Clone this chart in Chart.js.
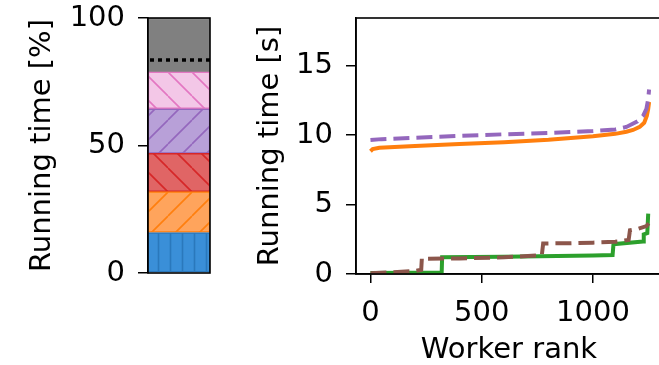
<!DOCTYPE html>
<html>
<head>
<meta charset="utf-8">
<script src="https://cdn.jsdelivr.net/npm/chart.js@4.4.1/dist/chart.umd.min.js"></script>
<style>
  html, body { margin: 0; padding: 0; background: #fff; overflow: hidden; width: 659px; height: 365px; }
  canvas { position: absolute; top: 0; }
  #share { left: 0; }
  #ranks { left: 212px; }
</style>
</head>
<body>
<canvas id="share" width="212" height="365"></canvas>
<canvas id="ranks" width="454" height="365"></canvas>
<script>
// left panel: share of the running time [%], bottom to top
const shareParts = ["p1", "p2", "p3", "p4", "p5", "rest"];
const shareValues = [15.9, 16.0, 15.0, 17.5, 14.5, 21.1];
const shareMarker = 83.5;
const shareTicks = [0, 50, 100];

// right panel: running time [s] per worker rank (sorted)
const orangeRank = [0, 10, 40, 200, 400, 600, 800, 1000, 1100, 1150, 1180, 1210, 1230, 1242, 1248, 1252];
const orangeTime = [8.85, 9.0, 9.1, 9.22, 9.37, 9.5, 9.67, 9.92, 10.1, 10.25, 10.38, 10.6, 10.9, 11.4, 11.9, 12.4];

const purpleRank = [0, 50, 200, 400, 600, 800, 1000, 1100, 1150, 1200, 1225, 1240, 1248, 1252];
const purpleTime = [9.65, 9.72, 9.82, 9.95, 10.07, 10.17, 10.3, 10.42, 10.6, 11.0, 11.4, 11.9, 12.6, 13.3];

const greenRank = [0, 320, 322, 600, 1000, 1088, 1092, 1225, 1228, 1244, 1248];
const greenTime = [0.08, 0.1, 1.2, 1.25, 1.33, 1.37, 2.15, 2.35, 2.85, 2.95, 4.35];

const brownRank = [0, 100, 200, 228, 231, 240, 400, 600, 770, 776, 900, 1000, 1100, 1160, 1166, 1200, 1240, 1250];
const brownTime = [0.05, 0.12, 0.22, 0.3, 1.15, 1.1, 1.12, 1.2, 1.35, 2.2, 2.22, 2.26, 2.32, 2.45, 3.15, 3.25, 3.45, 3.65];

const timeTicks = [0, 5, 10, 15];
const rankTicks = [0, 500, 1000];

const FONT = { family: "DejaVu Sans", size: 29 };

function hatch(fill, stroke, kind) {
  const P = kind === "|" ? 12 : 24;
  const c = document.createElement("canvas");
  c.width = P; c.height = P;
  const g = c.getContext("2d");
  g.fillStyle = fill;
  g.fillRect(0, 0, P, P);
  g.strokeStyle = stroke;
  g.lineWidth = 1.6;
  g.beginPath();
  if (kind === "|") {
    g.moveTo(2.5, 0); g.lineTo(2.5, P);
  } else if (kind === "/") {
    for (const o of [-P, 0, P]) { g.moveTo(o, P); g.lineTo(o + P, 0); }
  } else if (kind === "\\") {
    for (const o of [-P, 0, P]) { g.moveTo(o, 0); g.lineTo(o + P, P); }
  }
  g.stroke();
  return g.createPattern(c, "repeat");
}

const fills = ["#3a8fd8", "#ffa45c", "#e06565", "#b8a0d8", "#f3c7e7", "#808080"];
const lines = ["#2a78bc", "#ff7f0e", "#d62728", "#9467bd", "#e377c2", "#808080"];
const kinds = ["|", "/", "\\", "/", "\\", ""];

const frame = {
  id: "frame",
  afterDatasetsDraw(chart) {
    const { ctx, chartArea: a } = chart;
    ctx.save();
    if (chart.canvas.id === "share") {
      const y = chart.scales.y.getPixelForValue(shareMarker);
      ctx.setLineDash([4, 4]);
      ctx.lineWidth = 3.5;
      ctx.strokeStyle = "#000";
      ctx.beginPath();
      ctx.moveTo(a.left + 2, y);
      ctx.lineTo(a.right, y);
      ctx.stroke();
      ctx.setLineDash([]);
    }
    ctx.lineWidth = 1.6;
    ctx.strokeStyle = "#000";
    ctx.strokeRect(a.left, a.top, a.right - a.left, a.bottom - a.top);
    ctx.restore();
  }
};

// no extra room for the end tick labels: the layout padding decides
function noPad(s) {
  s.paddingTop = 0; s.paddingBottom = 0; s.paddingLeft = 0; s.paddingRight = 0;
}

function yAxis(ticks, width, titleText, titlePad, min, max) {
  return {
    min: min, max: max,
    afterBuildTicks: s => { s.ticks = ticks.map(v => ({ value: v })); },
    afterFit: s => { s.width = width; noPad(s); },
    grid: { drawOnChartArea: false, color: "#000", tickLength: 10, lineWidth: 1.5 },
    border: { color: "#000", width: 1.6 },
    ticks: { color: "#000", font: FONT, padding: 13, callback: v => String(v) },
    title: { display: true, text: titleText, color: "#000", font: FONT, padding: { top: titlePad, bottom: 0 } }
  };
}

new Chart(document.getElementById("share"), {
  type: "bar",
  data: {
    labels: ["all"],
    datasets: shareValues.map((v, i) => ({
      label: shareParts[i],
      data: [v],
      backgroundColor: kinds[i] ? hatch(fills[i], lines[i], kinds[i]) : fills[i],
      borderColor: lines[i],
      borderWidth: 1.5,
      borderSkipped: false,
      categoryPercentage: 1,
      barPercentage: 1
    }))
  },
  options: {
    responsive: false,
    animation: false,
    layout: { padding: { top: 18, bottom: 92, left: 0, right: 2 } },
    plugins: { legend: { display: false }, tooltip: { enabled: false } },
    scales: {
      x: { stacked: true, display: false },
      y: Object.assign(yAxis(shareTicks, 148, "Running time [%]", 25, 0, 100), { stacked: true })
    }
  },
  plugins: [frame]
});

function series(rank, time, color, dash, order) {
  return {
    data: rank.map((r, i) => ({ x: r, y: time[i] })),
    showLine: true,
    borderColor: color,
    borderWidth: 4,
    borderDash: dash,
    pointRadius: 0,
    tension: 0,
    order: order
  };
}

new Chart(document.getElementById("ranks"), {
  type: "scatter",
  data: {
    datasets: [
      series(purpleRank, purpleTime, "#9467bd", [16, 7], 0),
      series(brownRank, brownTime, "#8c564b", [16, 7], 1),
      series(orangeRank, orangeTime, "#ff7f0e", [], 2),
      series(greenRank, greenTime, "#2ca02c", [], 3)
    ]
  },
  options: {
    responsive: false,
    animation: false,
    layout: { padding: { top: 18, bottom: 0, left: 0, right: 4 } },
    plugins: { legend: { display: false }, tooltip: { enabled: false } },
    scales: {
      x: {
        type: "linear",
        min: -65, max: 1310,
        afterBuildTicks: s => { s.ticks = rankTicks.map(v => ({ value: v })); },
        afterFit: s => { s.height = 91; noPad(s); },
        grid: { drawOnChartArea: false, color: "#000", tickLength: 9, lineWidth: 1.5 },
        border: { color: "#000", width: 1.6 },
        ticks: { color: "#000", font: FONT, padding: 13, maxRotation: 0, callback: v => String(v) },
        title: { display: true, text: "Worker rank", color: "#000", font: Object.assign({ lineHeight: 1 }, FONT), padding: { top: 0, bottom: 0 } }
      },
      y: yAxis(timeTicks, 144, "Running time [s]", 41, 0, 18.45)
    }
  },
  plugins: [frame]
});
</script>
</body>
</html>
